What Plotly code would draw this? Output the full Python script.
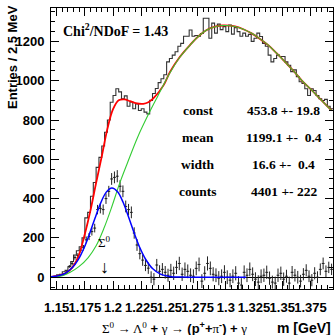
import numpy as np
import plotly.graph_objects as go

# ---------------- data ----------------
x_lo, x_hi, bin_w = 1.145, 1.395, 0.0025

counts = [3, 5, 12, 15, 28, 35, 53, 80, 113, 135,
          155, 200, 302, 330, 412, 482, 559, 610, 668, 738,
          800, 890, 925, 959, 943, 908, 923, 870, 892, 857,
          882, 848, 857, 840, 831, 900, 935, 960, 990, 1010,
          1030, 1096, 1113, 1130, 1147, 1175, 1190, 1226, 1226, 1258,
          1226, 1230, 1226, 1240, 1318, 1318, 1216, 1293, 1242, 1288,
          1260, 1275, 1250, 1283, 1237, 1270, 1250, 1226, 1242, 1226,
          1236, 1200, 1216, 1242, 1225, 1190, 1175, 1130, 1096, 1113,
          1130, 1123, 1123, 1096, 1079, 1046, 1055, 1020, 995, 986,
          959, 925, 959, 950, 925, 908, 899, 905, 870, 857]

resid = [2, 4, 6, 10, 14, 25, 55, 70, 100, 110,
         138, 150, 190, 207, 232, 250, 344, 350, 344, 400,
         437, 500, 508, 514, 463, 437, 360, 344, 330, 225,
         164, 120, 87, 60, 46, 0, -10, 62, 30, 40,
         25, 10, 35, 20, 50, 70, 15, 40, 30, 10,
         5, 45, 65, -20, 20, 70, 45, 15, 10, -5,
         5, 25, 0, -15, 5, 20, -30, -40, 25, 10,
         40, 15, -10, -25, 5, 10, 25, -5, -25, -30,
         10, 20, -10, 5, -30, 25, 10, 0, -20, 15,
         35, 5, -15, 20, 0, 40, 70, 30, 50, 40]

resid_err = [2, 2, 3, 4, 5, 6, 7, 9, 11, 12,
             12, 14, 17, 18, 20, 22, 24, 25, 26, 27,
             28, 30, 30, 31, 31, 30, 30, 29, 30, 29,
             30, 29, 29, 29, 29, 30, 31, 31, 31, 32,
             32, 33, 33, 34, 34, 34, 34, 35, 35, 35,
             35, 35, 35, 35, 36, 36, 35, 36, 35, 36,
             35, 36, 35, 36, 35, 36, 35, 35, 35, 35,
             35, 35, 35, 35, 35, 34, 34, 34, 33, 33,
             34, 34, 34, 33, 33, 32, 32, 32, 32, 31,
             31, 30, 31, 31, 30, 30, 30, 30, 29, 29]

bkg_x = [1.1485, 1.155, 1.162, 1.170, 1.178, 1.185, 1.192, 1.199, 1.206, 1.213,
         1.222, 1.2313, 1.2395, 1.2505, 1.259, 1.2682, 1.2755, 1.283, 1.2905, 1.2975,
         1.3081, 1.3155, 1.3229, 1.33, 1.3376, 1.345, 1.3524, 1.36, 1.3672, 1.375,
         1.382, 1.3938]
bkg_y = [0, 8, 25, 55, 100, 160, 250, 360, 480, 585,
         715, 828, 920, 1040, 1118, 1181, 1225, 1258, 1275, 1281,
         1276, 1262, 1241, 1214, 1181, 1140, 1096, 1050, 1002, 958,
         917, 848]

sig_x = [1.145, 1.152, 1.158, 1.164, 1.169, 1.174, 1.179, 1.184, 1.189, 1.194,
         1.199, 1.204, 1.209, 1.214, 1.219, 1.224, 1.229, 1.235, 1.242, 1.25,
         1.26, 1.275, 1.295, 1.318]
sig_y = [2, 8, 21, 49, 88, 145, 218, 300, 377, 433,
         454, 435, 380, 303, 221, 147, 90, 44, 16, 4,
         0.5, 0, 0, 0]

tot_x = [1.145, 1.152, 1.158, 1.164, 1.1692, 1.175, 1.18, 1.185, 1.19, 1.195,
         1.2, 1.205, 1.21, 1.215, 1.22, 1.2268, 1.2313, 1.2357, 1.2446, 1.2505,
         1.259, 1.2682, 1.2755, 1.283, 1.2905, 1.2975, 1.3081, 1.3155, 1.3229, 1.33,
         1.3376, 1.345, 1.3524, 1.36, 1.3672, 1.375, 1.382, 1.3938]
tot_y = [2, 8, 20, 50, 105, 220, 340, 480, 615, 755,
         855, 900, 905, 896, 886, 882, 890, 910, 975, 1044,
         1119, 1181, 1225, 1258, 1275, 1281, 1276, 1262, 1241, 1214,
         1181, 1140, 1096, 1050, 1002, 958, 917, 848]

x_tickvals = [1.15, 1.175, 1.2, 1.225, 1.25, 1.275, 1.3, 1.325, 1.35, 1.375]
x_ticktext = ["1.15", "1.175", "1.2", "1.225", "1.25", "1.275", "1.3", "1.325", "1.35", "1.375"]
y_tickvals = [0, 200, 400, 600, 800, 1000, 1200]

stat_names = ["const", "mean", "width", "counts"]
stat_vals = ["453.8 +- 19.8", "1199.1 +-  0.4", "16.6 +-  0.4", "4401 +- 222"]
chi2_val = "1.43"
sigma0_mass = 1.1926

# ---------------- figure ----------------
n = len(counts)
edges = x_lo + bin_w * np.arange(n + 1)
centers = edges[:-1] + bin_w / 2
hist_y = list(counts) + [counts[-1]]

SERIF = "Liberation Serif"
SANS = "Liberation Sans"

fig = go.Figure()
fig.add_trace(go.Scatter(x=edges, y=hist_y, mode="lines", line_shape="hv",
                         line=dict(color="#333333", width=1.1), hoverinfo="skip"))
fig.add_trace(go.Scatter(x=centers, y=resid, mode="markers",
                         marker=dict(size=1, color="#222222"),
                         error_y=dict(type="data", array=resid_err, visible=True,
                                      color="#222222", thickness=1, width=0),
                         error_x=dict(type="constant", value=bin_w / 2, visible=True,
                                      color="#222222", thickness=1, width=0)))
fig.add_trace(go.Scatter(x=tot_x, y=tot_y, mode="lines", line_shape="spline",
                         line=dict(color="#ff0000", width=1.8)))
fig.add_trace(go.Scatter(x=bkg_x, y=bkg_y, mode="lines", line_shape="spline",
                         line=dict(color="#33cc33", width=1.1)))
fig.add_trace(go.Scatter(x=sig_x, y=sig_y, mode="lines", line_shape="spline",
                         line=dict(color="#0000ff", width=1.5)))

tickfont = dict(family=SANS, size=13, color="black", weight="bold")
fig.update_xaxes(range=[x_lo, x_hi], tickvals=x_tickvals, ticktext=x_ticktext,
                 tickangle=0, ticks="inside", ticklen=8, tickcolor="black",
                 showline=True, linecolor="black", linewidth=1, mirror="ticks",
                 showgrid=False, zeroline=False, tickfont=tickfont,
                 ticklabelstandoff=6,
                 minor=dict(ticks="inside", ticklen=4, dtick=0.005, tick0=1.15,
                            tickcolor="black", showgrid=False))
fig.update_yaxes(range=[-60, 1370], tickvals=y_tickvals,
                 ticks="inside", ticklen=8, tickcolor="black",
                 showline=True, linecolor="black", linewidth=1, mirror="ticks",
                 showgrid=False, zeroline=True, zerolinecolor="black", zerolinewidth=1,
                 tickfont=tickfont, ticklabelstandoff=3,
                 minor=dict(ticks="inside", ticklen=4, dtick=50, tick0=0,
                            tickcolor="black", showgrid=False))

ann = []
ann.append(dict(text="Chi<sup>2</sup>/NDoF = " + chi2_val, xref="paper", yref="paper",
                x=0.0355, y=0.9217, xanchor="left", yanchor="middle", showarrow=False,
                font=dict(family=SERIF, size=14, color="black", weight="bold")))
stat_y = [0.6335, 0.5374, 0.4448, 0.3452]
for name, val, yy in zip(stat_names, stat_vals, stat_y):
    ann.append(dict(text=name, xref="paper", yref="paper", x=0.5213, y=yy,
                    xanchor="center", yanchor="middle", showarrow=False,
                    font=dict(family=SERIF, size=13.5, color="black", weight="bold")))
    ann.append(dict(text=val, xref="paper", yref="paper", x=0.8262, y=yy,
                    xanchor="center", yanchor="middle", showarrow=False,
                    font=dict(family=SERIF, size=13.5, color="black", weight="bold")))
ann.append(dict(text="Σ<sup>0</sup>", xref="x", yref="y", x=sigma0_mass, y=180,
                xanchor="center", yanchor="middle", showarrow=False,
                font=dict(family=SERIF, size=13, color="black")))
ann.append(dict(text="↓", xref="x", yref="y", x=sigma0_mass, y=52,
                xanchor="center", yanchor="middle", showarrow=False,
                font=dict(family=SERIF, size=18, color="black")))
ann.append(dict(text="Entries / 2.5 MeV", xref="paper", yref="paper", x=-0.1365, y=0.8238,
                xanchor="center", yanchor="middle", textangle=-90, showarrow=False,
                font=dict(family=SANS, size=13, color="black", weight="bold")))
g = '<span style="font-family:Liberation Serif;font-weight:normal">'
title = (g + "Σ<sup>0</sup> → Λ<sup>0</sup></span> + " + g + "γ →</span> (p<sup>+</sup>+"
         + g + "π</span><sup>-</sup>) + " + g + "γ</span>")
ann.append(dict(text=title, xref="paper", yref="paper", x=0.1738, y=-0.139,
                xanchor="left", yanchor="middle", showarrow=False,
                font=dict(family=SANS, size=13, color="black", weight="bold")))
ann.append(dict(text="m [GeV]", xref="paper", yref="paper", x=1.0, y=-0.139,
                xanchor="right", yanchor="middle", showarrow=False,
                font=dict(family=SANS, size=14, color="black", weight="bold")))

fig.update_layout(width=335, height=335, margin=dict(l=51, r=2, t=8, b=46),
                  paper_bgcolor="white", plot_bgcolor="white", showlegend=False,
                  annotations=ann)
fig.write_html("out.html")
